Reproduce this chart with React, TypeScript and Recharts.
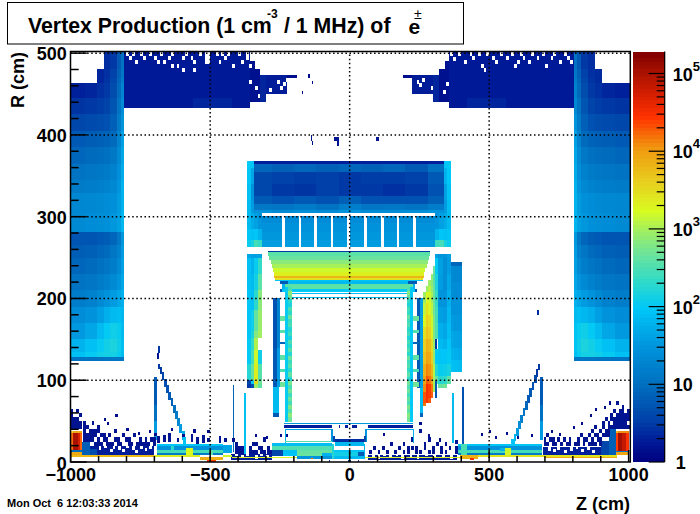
import { ComposedChart, ReferenceArea, ReferenceLine, XAxis, YAxis } from "recharts"

// z0, z1, r0, r1, count
type Cell = [number, number, number, number, number]
type Grid = { z: number[]; r: number[]; v: number[][] }

const zTicks = [-1000, -900, -800, -700, -600, -500, -400, -300, -200, -100, 0, 100, 200, 300, 400, 500, 600, 700, 800, 900, 1000]
const rTicks = [0, 20, 40, 60, 80, 100, 120, 140, 160, 180, 200, 220, 240, 260, 280, 300, 320, 340, 360, 380, 400, 420, 440, 460, 480, 500]
const zGrid = [-500, 0, 500]
const rGrid = [100, 200, 300, 400, 500]
const cTicks = [1, 2, 3, 4, 5, 6, 7, 8, 9, 10, 20, 30, 40, 50, 60, 70, 80, 90, 100, 200, 300, 400, 500, 600, 700, 800, 900, 1000, 2000, 3000, 4000, 5000, 6000, 7000, 8000, 9000, 10000, 20000, 30000, 40000, 50000, 60000, 70000, 80000, 90000, 100000]
const cLevels = [1, 1.13, 1.3, 1.45, 1.6, 1.8, 2, 2.25, 2.5, 2.85, 3.2, 3.6, 4, 4.5, 5, 5.6, 6.3, 7.1, 8, 9, 10, 11.3, 12.6, 14, 16, 18, 20, 22.5, 25, 28, 32, 36, 40, 45, 50, 56, 63, 71, 80, 90, 100, 113, 126, 142, 160, 180, 200, 225, 250, 285, 320, 360, 400, 450, 500, 560, 630, 710, 800, 900, 1000, 1130, 1260, 1420, 1600, 1800, 2000, 2250, 2500, 2850, 3200, 3600, 4000, 4500, 5000, 5600, 6300, 7100, 8000, 9000, 10000, 11300, 12600, 14200, 16000, 18000, 20000, 22500, 25000, 28500, 32000, 36000, 40000, 45000, 50000, 56000, 63000, 71000, 80000, 90000, 100000, 113000, 126000, 142000, 160000, 192000]

// palette: position on the log colour axis, colour
const palette: [number, string][] = [
  [0, "#00007f"], [0.05, "#001a98"], [0.1, "#0040a8"], [0.19, "#0070c0"], [0.28, "#0094dc"], [0.375, "#00c8f8"],
  [0.44, "#30dac8"], [0.51, "#70e498"], [0.57, "#a8f058"], [0.61, "#d8fc20"], [0.68, "#e8d020"], [0.76, "#f09c10"],
  [0.84, "#ff3200"], [0.89, "#d82000"], [0.95, "#a81000"], [1, "#7f0000"],
]
const cMax = 192000

function hex(c: string) {
  return [1, 3, 5].map((i) => parseInt(c.slice(i, i + 2), 16))
}
function colorOf(v: number) {
  if (v <= 0) return "#ffffff"
  const f = Math.min(1, Math.log10(Math.max(v, 1)) / Math.log10(cMax))
  for (let i = 1; i < palette.length; i++) {
    if (f <= palette[i][0]) {
      const t = (f - palette[i - 1][0]) / (palette[i][0] - palette[i - 1][0])
      const a = hex(palette[i - 1][1])
      const b = hex(palette[i][1])
      return `rgb(${a.map((x, k) => Math.round(x + (b[k] - x) * t)).join(",")})`
    }
  }
  return palette[palette.length - 1][1]
}

// ---- big side columns
const sideLeft: Grid = {
  z: [-1000, -950, -905, -880, -860, -835, -820, -808],
  r: [502, 480, 470, 463, 445, 425, 405, 385, 365, 345, 329, 305, 281, 265, 250, 230, 210, 190, 170, 150, 135, 128, 124],
  v: [
    [0, 0, 0, 2.5, 3, 6, 11],
    [0, 0, 2.2, 2.6, 3.5, 7, 13],
    [0, 0, 2.2, 2.8, 4, 8, 15],
    [2, 2.2, 2.6, 3, 4.5, 9, 19],
    [2.8, 3, 3.2, 3.6, 5.5, 11, 24],
    [4, 4.2, 4.5, 5, 7, 14, 30],
    [6, 6.5, 7, 7.5, 9, 18, 38],
    [8, 9, 9.5, 10, 13, 22, 45],
    [11, 12, 13, 14, 17, 26, 52],
    [14, 15, 16, 18, 21, 30, 60],
    [20, 21, 22, 24, 27, 36, 60],
    [22, 24, 25, 27, 32, 40, 65],
    [5.5, 5.5, 6, 6.5, 8, 13, 32],
    [6.5, 7, 8, 9, 12, 17, 35],
    [8, 9, 10, 12, 15, 22, 38],
    [11, 12, 14, 17, 22, 30, 45],
    [15, 17, 22, 28, 35, 45, 55],
    [24, 28, 38, 55, 70, 75, 65],
    [34, 45, 70, 100, 125, 110, 70],
    [60, 80, 105, 130, 150, 120, 75],
    [80, 105, 125, 135, 135, 110, 70],
    [11, 11, 11, 12, 12, 12, 12],
  ],
}
const sideRight: Grid = {
  z: [803, 815, 830, 855, 880, 905, 950, 1006],
  r: [502, 480, 470, 463, 445, 425, 405, 385, 365, 345, 329, 305, 281, 265, 250, 230, 210, 190, 170, 150, 135, 128, 124],
  v: [
    [11, 6, 3, 2.5, 0, 0, 0],
    [13, 7, 3.5, 2.6, 2.4, 0, 0],
    [15, 8, 4, 2.8, 2.4, 0, 0],
    [18, 9, 4.5, 3, 2.6, 2.2, 2],
    [22, 11, 5.5, 3.6, 3.2, 3, 2.8],
    [30, 14, 7, 5, 4.5, 4.2, 4],
    [38, 18, 9, 7.5, 7, 6.5, 6],
    [45, 22, 13, 10, 9.5, 9, 8],
    [50, 26, 17, 14, 13, 12, 11],
    [58, 30, 21, 18, 16, 15, 14],
    [60, 36, 27, 24, 22, 21, 20],
    [62, 40, 32, 27, 25, 24, 22],
    [32, 13, 8, 6.5, 6, 5.5, 5.5],
    [35, 17, 12, 9, 8, 7, 6.5],
    [38, 22, 15, 12, 10, 9, 8],
    [45, 30, 22, 17, 14, 12, 11],
    [55, 45, 35, 28, 22, 17, 15],
    [70, 75, 65, 55, 38, 28, 24],
    [85, 110, 125, 100, 70, 45, 34],
    [85, 120, 150, 130, 105, 80, 60],
    [75, 110, 135, 135, 125, 105, 80],
    [12, 12, 12, 12, 11, 11, 11],
  ],
}

// ---- navy blocks at the top
const topBlocks: Cell[] = [
  [-808, -357, 433, 502, 1.8],
  [-560, -420, 433, 445, 2.2],
  [-357, -340, 440, 490, 1.5],
  [-340, -321, 440, 480, 1.5],
  [-321, -300, 440, 473, 2.2],
  [-300, -225, 450, 473, 1.9],
  [-225, -190, 470, 473, 1.4],
  [357, 803, 433, 502, 1.8],
  [420, 560, 433, 445, 2.2],
  [340, 357, 440, 490, 1.5],
  [321, 340, 440, 480, 1.5],
  [300, 321, 440, 473, 2.2],
  [225, 300, 450, 473, 1.9],
  [190, 225, 470, 473, 1.4],
]
const topHoles: [number, number][] = [
  [-800, 497], [-790, 492], [-780, 497], [-770, 487], [-750, 497], [-740, 492], [-720, 497], [-700, 492], [-690, 487], [-680, 497],
  [-650, 492], [-640, 497], [-620, 482], [-600, 477], [-590, 497], [-570, 492], [-560, 487], [-540, 497], [-520, 497], [-520, 492],
  [-520, 487], [-510, 497], [-510, 492], [-510, 487], [-480, 497], [-470, 487], [-450, 492], [-440, 497], [-420, 482], [-400, 497],
  [-390, 487], [-370, 492], [-370, 497], [-640, 482], [-560, 477], [-670, 487], [-600, 492], [-460, 497], [-360, 482], [-360, 462],
  [-340, 455], [-330, 445], [-250, 455], [-240, 460], [-230, 465], [-260, 462], [-290, 452],
  [360, 497], [370, 490], [390, 497], [410, 487], [430, 497], [440, 492], [460, 497], [470, 482], [490, 497], [510, 492],
  [520, 487], [540, 497], [560, 492], [580, 497], [590, 482], [610, 497], [620, 492], [640, 487], [650, 497], [670, 492],
  [690, 497], [700, 482], [720, 492], [730, 497], [750, 487], [770, 497], [780, 492], [790, 487], [480, 477], [600, 487],
  [345, 460], [335, 450], [250, 458], [260, 465], [240, 462], [290, 455],
]
const topStrays: Cell[] = [
  [-148, -142, 470, 474, 1.3], [-172, -166, 450, 454, 1.3], [-135, -130, 462, 466, 1.3], [-140, -134, 393, 400, 1.6],
  [-135, -130, 388, 393, 1.6], [-55, -40, 392, 397, 1.6], [-45, -40, 387, 392, 1.6], [95, 105, 393, 398, 1.6],
  [670, 678, 180, 186, 2.5], [-686, -680, 133, 142, 3], [-690, -684, 126, 133, 1.6],
]

// ---- central barrel, upper part
const upperCentre: Grid = {
  z: [-342, -280, -200, -120, -40, 40, 120, 200, 280, 338],
  r: [368, 365, 355, 340, 325, 315, 308, 304],
  v: [
    [2, 2, 2, 2, 2, 2, 2, 2, 2],
    [8, 7, 8, 7, 8, 7, 8, 6, 10],
    [4, 3.5, 3.2, 3.4, 3, 3.2, 3.2, 3.5, 6],
    [4, 3, 2.8, 3.4, 3, 3, 2.6, 3, 5],
    [6, 5, 6, 5, 7, 5, 5, 5, 7],
    [13, 12, 14, 11, 16, 12, 13, 11, 15],
    [28, 22, 26, 24, 30, 24, 24, 26, 30],
  ],
}
const cornerLeft: Grid = {
  z: [-367, -355, -342, -327, -313],
  r: [368, 360, 340, 320, 304, 285, 272, 263],
  v: [
    [100, 90, 0, 0],
    [90, 45, 0, 0],
    [80, 30, 0, 0],
    [70, 35, 0, 0],
    [70, 50, 40, 30],
    [90, 80, 90, 60],
    [110, 140, 280, 220],
  ],
}
const cornerRight: Grid = {
  z: [306, 320, 338, 350, 362],
  r: [368, 360, 340, 320, 304, 285, 272, 263],
  v: [
    [0, 0, 90, 100],
    [0, 0, 60, 95],
    [0, 0, 40, 85],
    [0, 0, 35, 75],
    [30, 40, 50, 70],
    [60, 90, 80, 90],
    [250, 280, 140, 110],
  ],
}
const slats: [number, number][] = [
  [-313, -242], [-231, -181], [-173, -127], [-116, -66], [-59, -9], [2, 52], [62, 113], [122, 169], [177, 227], [238, 306],
]
const slatRows: [number, number, number][] = [
  [292, 301, 24], [281, 292, 28], [272, 281, 32], [263, 272, 36],
]

// ---- yellow barrel rows
const barrelRows: Cell[] = [
  [-291, 288, 256.5, 258, 3],
  [-291, 288, 252, 256.5, 380],
  [-288, 284, 247, 252, 450],
  [-283, 280, 242, 247, 700],
  [-279, 276, 237, 242, 1000],
  [-274, 271, 232, 237, 1500],
  [-270, 267, 228, 232, 2100],
  [-270, 267, 225, 228, 6500],
  [-266, 263, 223, 225, 2800],
  [-266, 263, 221, 223, 90],
  [-249, 240, 218, 221, 6],
  [-220, 210, 218, 221, 70],
  [-243, 234, 212, 218, 60],
  [-231, 226, 212, 218, 380],
  [-243, 234, 208, 212, 95],
  [-249, -243, 208, 212, 6],
  [234, 240, 208, 212, 6],
  [-213, 204, 206, 207, 80],
  [-213, 204, 200.5, 202, 90],
]

// ---- lower side parts
const lowerLeft: Grid = {
  z: [-367, -355, -342, -327, -313],
  r: [254, 250, 230, 210, 186, 160, 152, 137, 120, 100, 95, 90],
  v: [
    [45, 40, 40, 40],
    [80, 60, 110, 220],
    [80, 70, 130, 380],
    [90, 80, 190, 700],
    [90, 120, 420, 850],
    [90, 150, 650, 950],
    [100, 210, 1100, 0],
    [100, 260, 1500, 130],
    [180, 420, 2200, 350],
    [4, 110, 3200, 500],
    [3, 5, 900, 400],
  ],
}
const wedgeRight: Grid = {
  z: [264, 274, 282, 290, 298, 306],
  r: [240, 230, 222, 215, 208, 195, 180, 165, 150, 135, 120, 105, 95, 85, 78, 72, 68],
  v: [
    [0, 0, 0, 0, 500],
    [0, 0, 0, 800, 350],
    [0, 0, 900, 700, 400],
    [0, 900, 1200, 800, 450],
    [900, 1800, 1500, 1000, 450],
    [1300, 2800, 2000, 1200, 500],
    [1800, 4000, 3000, 1500, 600],
    [2800, 5000, 4000, 2000, 600],
    [4000, 7000, 6000, 3000, 800],
    [5000, 9000, 8000, 4000, 800],
    [7000, 13000, 11000, 6000, 1200],
    [9000, 20000, 16000, 8000, 1000],
    [12000, 30000, 25000, 15000, 1000],
    [20000, 30000, 25000, 18000, 0],
    [20000, 28000, 20000, 0, 0],
    [15000, 0, 0, 0, 0],
  ],
}
const outerRight: Grid = {
  z: [306, 318, 335, 350, 362],
  r: [254, 250, 230, 210, 190, 170, 151, 138, 120, 105, 95, 90],
  v: [
    [40, 30, 30, 40],
    [100, 40, 25, 35],
    [150, 35, 25, 45],
    [220, 30, 30, 55],
    [280, 40, 35, 65],
    [320, 55, 45, 75],
    [0, 70, 60, 90],
    [100, 90, 90, 100],
    [180, 110, 120, 140],
    [450, 180, 200, 400],
    [0, 450, 500, 0],
  ],
}
const farRight: Grid = {
  z: [363, 375, 390, 402],
  r: [244, 240, 220, 200, 180, 160, 140, 125, 110],
  v: [
    [8, 8, 8],
    [22, 20, 20],
    [25, 24, 24],
    [28, 28, 28],
    [35, 32, 32],
    [45, 42, 40],
    [60, 55, 50],
    [80, 75, 70],
  ],
}
const innerStrips: Cell[] = [
  [-274, -262, 140, 200, 5], [-262, -249, 140, 200, 18],
  [-274, -262, 92, 140, 6], [-262, -249, 92, 140, 35],
  [-274, -255, 60, 92, 70], [-274, -255, 55, 60, 6],
  [242, 252, 90, 200, 6], [252, 264, 90, 200, 40],
  [252, 264, 60, 90, 75], [252, 264, 55, 60, 8],
  [-316, -313, 254, 263, 3],
  [306, 312, 78, 100, 6], [306, 312, 138, 151, 3],
  [367, 374, 23, 84, 70], [402, 409, 20, 92, 5],
  [-417, -414, 12, 94, 8], [-377, -373, 10, 84, 80],
]

// ---- struts and rungs
const legR = [212, 207, 202, 197, 192, 187, 182, 177, 172, 167, 162, 157, 152, 147, 142, 137, 132, 127, 122, 117, 112, 107, 102, 97, 92, 87, 82, 77, 72, 67, 62, 57, 52]
const legGreenLeft = [300, 700, 500, 200, 150, 300, 200, 450, 250, 300, 180, 250, 150, 300, 200, 350, 180, 450, 250, 350, 200, 400, 180, 550, 300, 500, 250, 450, 280, 600, 350, 700, 500]
const legGreenRight = [320, 650, 450, 220, 160, 280, 220, 420, 260, 320, 190, 260, 160, 280, 210, 330, 190, 420, 260, 330, 220, 380, 200, 520, 320, 480, 270, 430, 300, 580, 380, 680, 520]
const rungR: [number, number, number][] = [
  [173, 178, 450], [158, 162, 350], [144, 147, 8], [125, 131, 380], [110, 114, 300], [92, 98, 500],
]

// ---- diagonals, left and right
const diagLeft: Cell[] = [
  [-702, -692, 70, 104, 6], [-702, -692, 50, 70, 10], [-702, -692, 27, 50, 35],
  [-686, -680, 114, 120, 3], [-680, -672, 108, 116, 3], [-674, -664, 100, 110, 4], [-666, -656, 92, 102, 5],
  [-658, -648, 84, 94, 5], [-650, -640, 76, 86, 6], [-642, -632, 68, 78, 7], [-634, -624, 60, 70, 10],
  [-626, -616, 52, 62, 14], [-618, -608, 44, 54, 20], [-610, -600, 36, 46, 35], [-602, -592, 27, 38, 50], [-596, -586, 21, 30, 90],
]
const diagRight: Cell[] = [
  [681, 693, 70, 104, 6], [681, 693, 50, 70, 10], [681, 693, 27, 50, 35],
  [676, 681, 112, 120, 3], [668, 676, 104, 114, 3], [660, 670, 96, 106, 4], [652, 662, 88, 98, 5],
  [644, 654, 80, 90, 6], [636, 646, 72, 82, 6], [628, 638, 64, 74, 8], [620, 630, 56, 66, 12],
  [612, 622, 48, 58, 16], [604, 614, 40, 50, 24], [596, 606, 32, 42, 35], [588, 598, 26, 34, 60], [580, 592, 21, 28, 90],
]

// ---- beamline bands
const bandLeft: Cell[] = [
  [-692, -453, 20, 22, 90], [-692, -453, 15, 20, 28], [-692, -453, 11, 15, 280], [-692, -453, 8, 11, 14],
  [-455, -420, 11, 21, 45], [-588, -563, 7, 17, 1700], [-640, -630, 15, 20, 200], [-500, -490, 8, 15, 350],
  [-535, -455, 2, 6, 7000], [-510, -480, 0, 3, 25000],
]
const bandRight: Cell[] = [
  [390, 690, 20, 22, 90], [390, 690, 15, 20, 28], [390, 690, 11, 15, 280], [390, 690, 8, 11, 14],
  [556, 580, 8, 17, 1500], [400, 420, 6, 22, 300], [540, 556, 13, 17, 60],
  [395, 460, 4, 8, 7000], [430, 445, 3, 5, 30000],
]
const baseLine: Cell[] = [
  [-1000, -700, 6, 8, 6000], [-700, -535, 6, 8, 2200], [-455, -420, 6, 8, 1500],
  [-420, 395, 5, 6, 2000], [460, 960, 6, 8, 2600], [700, 960, 5, 6, 8000],
]

// ---- corners of red production at both ends
const redCorners: Cell[] = [
  [-1000, -990, 36, 38, 4000], [-990, -960, 36, 38, 9000],
  [-1000, -990, 15, 36, 16000], [-990, -975, 15, 36, 100000], [-975, -965, 15, 36, 50000], [-965, -958, 15, 36, 18000],
  [-1000, -958, 12, 15, 9], [-1000, -958, 8, 12, 8000],
  [953, 962, 36, 38, 6000], [962, 1003, 36, 38, 12000],
  [953, 962, 14, 36, 25000], [962, 975, 14, 36, 110000], [975, 990, 14, 36, 70000], [990, 1003, 14, 36, 28000],
  [953, 1003, 12, 14, 12], [953, 1003, 8, 12, 9000],
]

// ---- central beam pipe structure
const beamCentre: Cell[] = [
  [-237, 228, 46, 48, 32],
  [-237, -64, 42, 45, 2], [67, 228, 42, 45, 2], [-40, -35, 42, 45, 2], [-15, -5, 42, 45, 2], [10, 25, 42, 45, 2],
  [-231, -64, 39, 40.5, 45], [60, 228, 39, 40.5, 45],
  [-231, -227, 23, 40, 60], [227, 231, 23, 40, 60], [-66, -60, 25, 40, 30], [56, 62, 25, 40, 30],
  [-60, -52, 25, 32, 4], [52, 58, 25, 32, 4], [-52, 52, 25, 28, 2.5], [-52, 52, 20, 24, 65],
  [-231, -64, 24, 25.5, 350], [-279, -64, 19, 23, 75],
  [-279, -64, 15, 19, 320], [-262, -190, 11, 15, 80], [-190, -64, 11, 15, 420],
  [-240, -190, 7, 11, 90], [-190, -100, 7, 11, 450], [-100, -64, 7, 11, 60],
  [-280, -240, 7, 15, 4], [-190, -64, 3.5, 7, 30], [-64, -55, 3.5, 22, 180],
  [-55, 50, 12, 15, 90], [-55, 30, 7, 12, 130], [30, 55, 7, 12, 6], [-55, 50, 3.5, 7, 70], [50, 56, 3.5, 22, 60],
  [-140, -130, 3.5, 5, 12000], [-5, 5, 0, 3, 4], [-75, -70, 0, 3, 3], [30, 35, 0, 3, 3],
]

// ---- dense navy hits along the beam line, then the bins left empty in them
const denseBase: Cell[] = [
  [-958, -700, 8, 20, 1.9], [-958, -930, 8, 24, 7], [-930, -905, 8, 16, 4.5], [-425, -280, 3, 10, 1.9],
  [65, 385, 3, 9, 1.9], [692, 955, 8, 18, 2], [900, 953, 8, 26, 4], [930, 953, 8, 40, 7],
]
const denseHoles: [number, number][] = [
  [-900, 15], [-880, 17], [-860, 12], [-850, 16], [-830, 15], [-815, 12], [-800, 17], [-780, 15], [-770, 11], [-750, 16], [-735, 13], [-720, 16],
  [-410, 7], [-390, 5], [-370, 7], [-340, 4], [-320, 7], [-300, 5],
  [80, 6], [100, 4], [120, 7], [140, 5], [165, 7], [185, 4], [215, 6], [240, 4], [270, 7], [300, 5], [330, 6], [360, 4],
  [710, 14], [730, 12], [745, 15], [770, 11], [790, 14], [810, 16], [830, 12], [850, 15], [870, 11],
]

// ---- sparse navy hits, by z bin, then the r bins that were hit
const sparseDim: [number, number[]][] = [
  [-1000, [40, 45, 50, 55, 60]], [-990, [40, 45, 50]], [-980, [40, 45, 50, 60]], [-970, [40, 45, 55]],
  [-955, [25, 30, 35, 40, 45]], [-945, [25, 30, 40]], [-935, [25, 30, 35]], [-925, [25, 30, 35, 45]],
  [-915, [20, 30, 35]], [-905, [20, 25, 35, 40]], [-895, [20, 30]], [-885, [25, 30]],
  [-875, [20, 25]], [-865, [20, 30]], [-855, [20]], [-845, [25, 35]],
  [-835, [20, 25]], [-825, [20]], [-815, [30]], [-805, [25]],
  [-795, [20, 25]], [-785, [20]], [-775, [30]], [-765, [20]],
  [-755, [20, 25]], [-745, [20]], [-735, [20, 25]], [-725, [20]],
  [-715, [25]], [-705, [20, 25]], [-690, [23, 27]], [-670, [24, 28]], [-650, [25, 30]],
  [-620, [24]], [-570, [24, 29]], [-550, [22, 26]], [-530, [23, 28]], [-510, [24]], [-470, [23, 27]], [-450, [24]],
  [-410, [10, 15, 20]], [-400, [10, 15]], [-390, [10, 15]], [-360, [10, 15]], [-350, [10, 20]],
  [-340, [10, 20]], [-330, [15]], [-320, [10, 15]], [-310, [10, 25]], [-295, [10, 15]], [-285, [10]],
  [70, [10]], [85, [15]], [100, [10]], [115, [15]], [130, [10]], [145, [20]], [160, [10]], [175, [15]],
  [190, [10, 20]], [205, [10, 15]], [220, [15, 25]], [235, [10, 15]], [250, [10, 35]], [265, [15, 20]], [280, [10, 25]],
  [295, [10, 15]], [310, [20]], [325, [10, 15]], [340, [10, 20]], [355, [15]], [378, [10, 15, 22]], [385, [15]],
  [695, [20, 25]], [705, [20, 30]], [715, [25]], [725, [20, 25]], [735, [20]], [745, [25]],
  [755, [20]], [765, [25]], [775, [20]], [785, [20, 25]], [805, [20]],
  [815, [20, 25]], [825, [30]], [835, [20, 25]], [845, [25]], [855, [20, 30]], [865, [20, 25, 35]],
  [875, [20, 30, 40]], [885, [25, 30]], [895, [20, 25, 35]], [905, [30, 40, 45]], [915, [30, 35, 50]],
  [925, [30, 35, 40, 45]], [935, [40, 50, 55]], [945, [40, 45, 50, 60]],
  [955, [40, 45, 50, 55, 70]], [965, [40, 45, 50, 55, 60]], [975, [40, 45, 50, 55, 60, 65]], [985, [40, 45, 50, 55]], [995, [40, 50, 55, 60]],
]
const strayHits: [number, number][] = [
  [-880, 50], [-870, 45], [-840, 55], [-800, 38], [-760, 33], [-720, 35], [-700, 32], [-640, 38], [-600, 30], [-560, 36], [-510, 35],
  [-420, 25], [-340, 30], [-300, 28], [-250, 30], [-230, 30], [120, 32], [250, 45], [280, 30], [320, 25], [470, 32], [500, 35],
  [520, 28], [560, 33], [600, 28], [650, 30], [720, 35], [750, 32], [800, 40], [830, 45], [860, 55], [880, 62], [910, 65], [930, 70],
]

const cells: Cell[] = []
const addGrid = (g: Grid) => {
  g.v.forEach((row, i) => row.forEach((v, j) => {
    if (v > 0) cells.push([g.z[j], g.z[j + 1], g.r[i + 1], g.r[i], v])
  }))
}
;[sideLeft, sideRight].forEach(addGrid)
cells.push(...topBlocks)
topHoles.forEach(([z, r]) => cells.push([z, z + 10, r, Math.min(r + 5, 502), 0]))
cells.push(...topStrays)
;[cornerLeft, cornerRight, upperCentre].forEach(addGrid)
slats.forEach(([a, b]) => slatRows.forEach(([r0, r1, v]) => cells.push([a, b, r0, r1, v])))
cells.push(...barrelRows)
;[lowerLeft, outerRight, farRight, wedgeRight].forEach(addGrid)
cells.push(...innerStrips)
legR.forEach((r, i) => {
  cells.push([-231, -220, r - 2.5, r + 2.5, 110])
  cells.push([-220, -207, r - 2.5, r + 2.5, legGreenLeft[i]])
  cells.push([205, 217, r - 2.5, r + 2.5, legGreenRight[i]])
  cells.push([217, 226, r - 2.5, r + 2.5, 100])
})
rungR.forEach(([r0, r1, v]) => {
  cells.push([-251, -231, r0, r1, v])
  cells.push([226, 249, r0, r1, v])
})
cells.push(...diagLeft, ...diagRight)
cells.push(...denseBase)
denseHoles.forEach(([z, r]) => cells.push([z, z + 10, r, r + 4, 0]))
sparseDim.forEach(([z, rs]) => rs.forEach((r) => cells.push([z, z + 10, r, r + 5, 1.6])))
strayHits.forEach(([z, r]) => cells.push([z, z + 8, r, r + 4, 1.4]))
cells.push(...bandLeft, ...bandRight, ...baseLine, ...redCorners, ...beamCentre)

const font = "'Liberation Sans', Arial, sans-serif"

function CellShape(props: any) {
  return <rect x={props.x} y={props.y} width={props.width} height={props.height} fill={props.fill} shapeRendering="crispEdges" />
}

function ZTick({ x, y, payload }: any) {
  const major = payload.value % 500 === 0
  return (
    <g>
      <line x1={x} x2={x} y1={y} y2={y - (major ? 12 : 6)} stroke="#000" strokeWidth={1.5} />
      {major && (
        <text x={x} y={y + 19} textAnchor="middle" fontFamily={font} fontWeight="bold" fontSize={18}>
          {payload.value < 0 ? `\u2212${-payload.value}` : payload.value}
        </text>
      )}
    </g>
  )
}

function RTick({ x, y, payload }: any) {
  const major = payload.value % 100 === 0
  return (
    <g>
      <line x1={x} x2={x + (major ? 16 : 8)} y1={y} y2={y} stroke="#000" strokeWidth={1.5} />
      {major && (
        <text x={x - 4} y={y + (payload.value === 0 ? 8 : 7)} textAnchor="end" fontFamily={font} fontWeight="bold" fontSize={18}>
          {payload.value}
        </text>
      )}
    </g>
  )
}

function ColorTick({ x, y, payload }: any) {
  const exp = Math.log10(payload.value)
  const major = Math.abs(exp - Math.round(exp)) < 1e-6
  const n = Math.round(exp)
  return (
    <g>
      <line x1={x} x2={x - (major ? 16 : 8)} y1={y} y2={y} stroke="#000" strokeWidth={1.2} />
      {major && (
        <text x={n === 0 ? x + 11 : x + 8} y={y + 7} fontFamily={font} fontWeight="bold" fontSize={18}>
          {n === 0 ? "1" : "10"}
        </text>
      )}
      {major && n > 1 && (
        <text x={x + 28} y={y - 3} fontFamily={font} fontWeight="bold" fontSize={13}>
          {n}
        </text>
      )}
    </g>
  )
}

export default function App() {
  return (
    <div style={{ position: "absolute", left: 0, top: 0, width: 700, height: 514, background: "#fff", overflow: "hidden" }}>
      <div style={{ position: "absolute", left: 0, top: 0 }}>
        <ComposedChart width={700} height={514} margin={{ top: 51.5, right: 69.7, bottom: 0, left: 0.7 }}>
          <XAxis type="number" dataKey="z" domain={[-1000, 1006]} ticks={zTicks} interval={0} height={52} axisLine={false} tickLine={false} tickSize={0} tickMargin={0} allowDataOverflow tick={<ZTick />} />
          <YAxis type="number" domain={[0, 502]} ticks={rTicks} interval={0} width={70} axisLine={false} tickLine={false} tickSize={0} tickMargin={0} allowDataOverflow tick={<RTick />} />
          {cells.map(([z0, z1, r0, r1, v], i) => (
            <ReferenceArea key={i} x1={z0} x2={z1} y1={r0} y2={r1} fill={colorOf(v)} fillOpacity={1} stroke="none" ifOverflow="visible" shape={<CellShape />} />
          ))}
          {zGrid.map((z) => (
            <ReferenceLine key={z} x={z} stroke="#000" strokeWidth={1.5} strokeDasharray="1.5 2.6" />
          ))}
          {rGrid.map((r) => (
            <ReferenceLine key={r} y={r} stroke="#000" strokeWidth={1.5} strokeDasharray="1.5 2.6" />
          ))}
        </ComposedChart>
      </div>
      <div style={{ position: "absolute", left: 0, top: 0 }}>
        <ComposedChart width={700} height={514} margin={{ top: 51.5, right: 0, bottom: 0, left: 632.7 }}>
          <XAxis type="number" dataKey="c" domain={[0, 1]} height={52} axisLine={false} tick={false} tickLine={false} allowDataOverflow />
          <YAxis orientation="right" type="number" dataKey="level" scale="log" domain={[1, cMax]} ticks={cTicks} interval={0} width={35.3} axisLine={{ stroke: "#000", strokeWidth: 1.2 }} tickLine={false} tickSize={0} tickMargin={0} allowDataOverflow tick={<ColorTick />} />
          {cLevels.slice(1).map((top, i) => (
            <ReferenceArea key={i} x1={0} x2={1} y1={cLevels[i]} y2={top} fill={colorOf(Math.sqrt(cLevels[i] * top))} fillOpacity={1} stroke="none" ifOverflow="visible" shape={<CellShape />} />
          ))}
        </ComposedChart>
      </div>
      <svg width={700} height={514} style={{ position: "absolute", left: 0, top: 0, pointerEvents: "none" }}>
        <rect x={70.5} y={51.5} width={559.8} height={410.5} fill="none" stroke="#000" strokeWidth={1.5} />
        <rect x={7.5} y={2.5} width={456} height={41.5} fill="#fff" stroke="#000" strokeWidth={1} />
        <g fontFamily={font} fontWeight="bold" fill="#000">
          <text x={28} y={33} fontSize={21.3}>Vertex Production (1 cm</text>
          <text x={267} y={18} fontSize={12}>-3</text>
          <text x={284} y={33} fontSize={21.3}>/ 1 MHz) of</text>
          <text x={408.5} y={33.5} fontSize={21}>e</text>
          <text x={414} y={19} fontSize={14} fontWeight="normal">±</text>
          <text x={576} y={510} fontSize={18}>Z (cm)</text>
          <text transform="translate(24,108) rotate(-90)" fontSize={18}>R (cm)</text>
          <text x={7} y={507} fontSize={11} style={{ whiteSpace: "pre" }}>Mon Oct  6 12:03:33 2014</text>
        </g>
      </svg>
    </div>
  )
}
